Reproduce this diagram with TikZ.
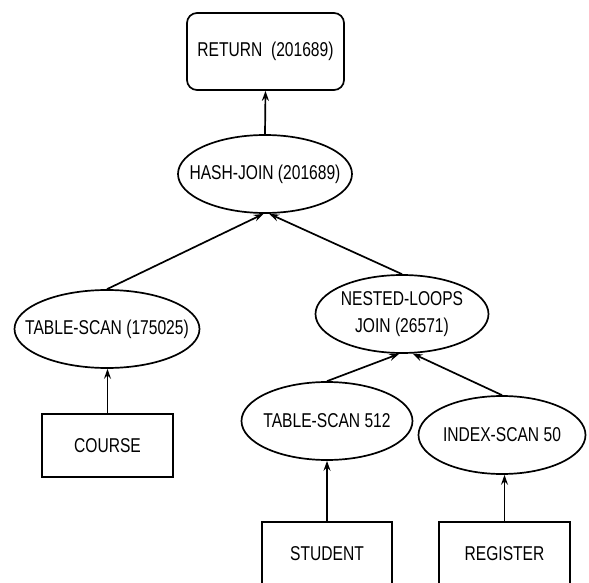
\documentclass[tikz,border=0pt]{standalone}
\usepackage{fontspec}
\setmainfont{Liberation Sans}[FakeStretch=0.78]
\usetikzlibrary{shapes.geometric,arrows.meta}
\begin{document}
\begin{tikzpicture}[x=1pt,y=-1pt,
  every node/.style={font=\fontsize{20}{22}\selectfont, inner sep=0pt, line width=1.7pt, draw, align=center},
  oval/.style={ellipse, inner sep=-60pt, minimum width=#1, minimum height=78pt},
  oval/.default=174pt,
  leaf/.style={rectangle, minimum width=131pt, minimum height=63pt},
  topbox/.style={rectangle, rounded corners=10pt, minimum width=157pt, minimum height=77pt},
  conn/.style={line width=1.7pt, -{Stealth[length=10pt,width=7pt,inset=3.5pt]}}]
\clip (0,0) rectangle (589,583);
\useasboundingbox (0,0) rectangle (589,583);
\node[topbox] (ret) at (265.5,51.5) {RETURN\ \ (201689)};
\node[oval] (hj) at (265,174) {HASH-JOIN (201689)};
\node[oval=185pt] (ts) at (107,329) {TABLE-SCAN (175025)};
\node[oval=173pt] (nl) at (402,314) {NESTED-LOOPS\\[5pt]JOIN (26571)};
\node[leaf] (course) at (107.5,445.5) {COURSE};
\node[oval=171pt] (ts512) at (327,421) {TABLE-SCAN 512};
\node[oval=167pt] (is50) at (502,435) {INDEX-SCAN 50};
\node[leaf, minimum width=130pt] (student) at (327,553.5) {STUDENT};
\node[leaf] (register) at (504.5,553.5) {REGISTER};
\draw[conn] (hj.north) -- (ret.south);
\draw[conn] (ts.north) -- (hj.268);
\draw[conn] (nl.north) -- (hj.276);
\draw[conn] (course.north) -- (course.north |- ts.south);
\draw[conn] (ts512.north) -- (nl.266);
\draw[conn] (is50.north) -- (nl.285);
\draw[conn] (student.north) -- (ts512.south);
\draw[conn] (register.north) -- (register.north |- is50.south);
\end{tikzpicture}
\end{document}
